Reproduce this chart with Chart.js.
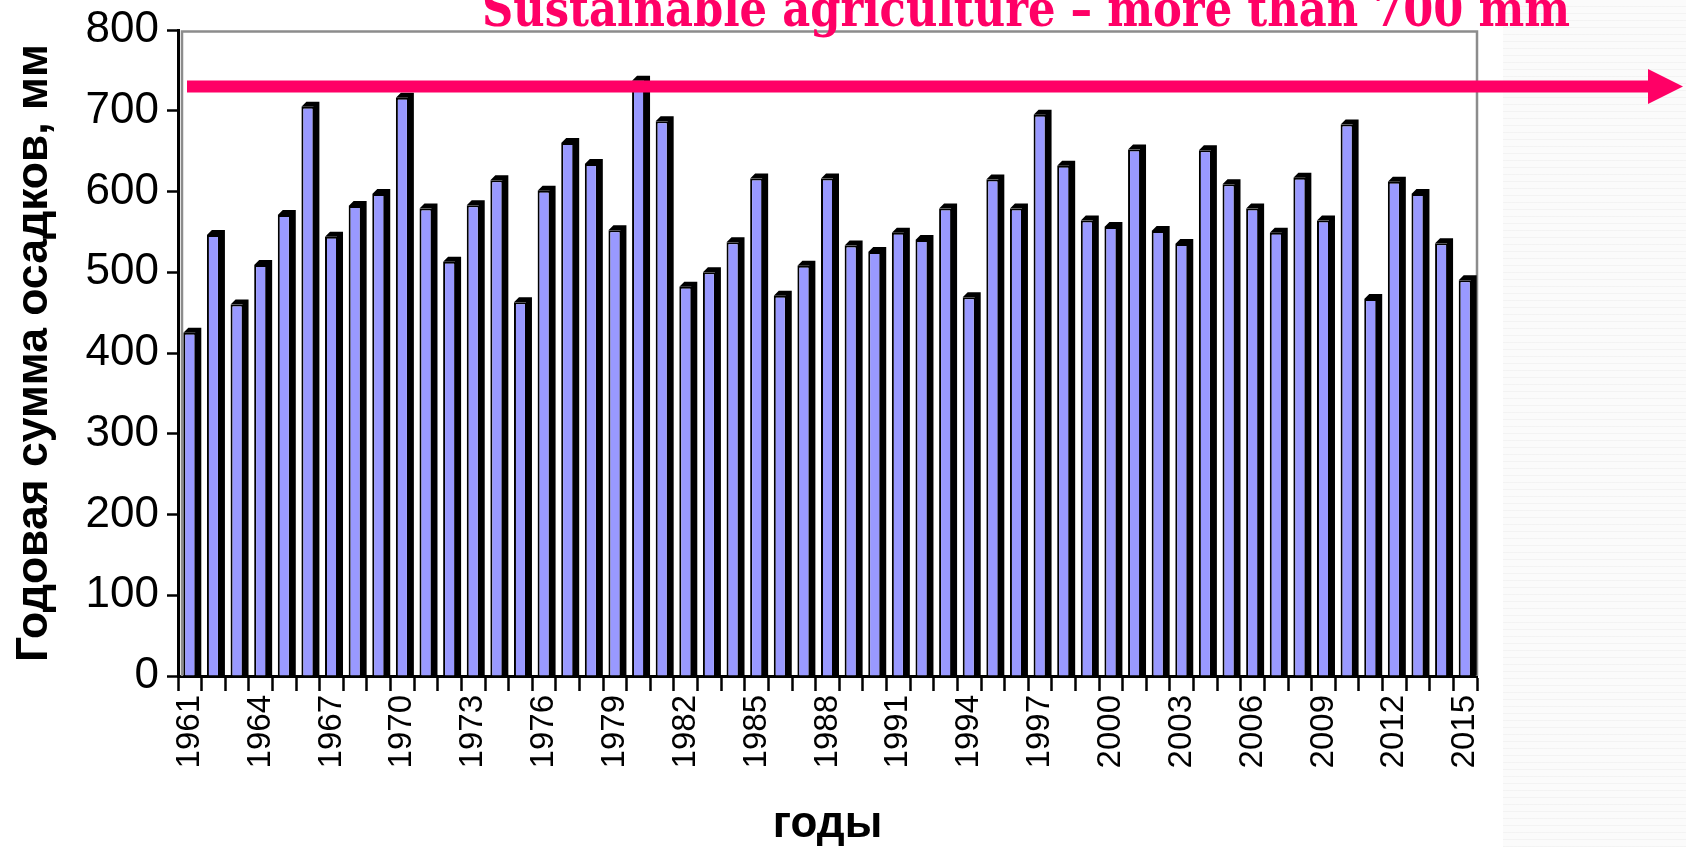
<!DOCTYPE html>
<html>
<head>
<meta charset="utf-8">
<script src="https://cdn.jsdelivr.net/npm/chart.js@4.4.1/dist/chart.umd.min.js"></script>
<style>
html,body{margin:0;padding:0;background:#fff;}
#wrap{position:relative;width:1686px;height:847px;overflow:hidden;background:#fff;}
#tex{position:absolute;left:1503px;top:0;width:183px;height:847px;background-color:#fbfbfb;
  background-image:repeating-linear-gradient(0deg, rgba(0,0,0,0.03) 0 1px, transparent 1px 7px);}
canvas{position:absolute;left:0;top:0;}
</style>
</head>
<body>
<div id="wrap"><div id="tex"></div><canvas id="c" width="1686" height="847"></canvas></div>
<script>
// ---- data ----
const years = ['1961','1962','1963','1964','1965','1966','1967','1968','1969','1970',
  '1971','1972','1973','1974','1975','1976','1977','1978','1979','1980',
  '1981','1982','1983','1984','1985','1986','1987','1988','1989','1990',
  '1991','1992','1993','1994','1995','1996','1997','1998','1999','2000',
  '2001','2002','2003','2004','2005','2006','2007','2008','2009','2010',
  '2011','2012','2013','2014','2015'];
const precipitation = [425,546,460,509,571,705,544,582,597,716,
  579,513,583,614,463,601,660,634,552,737,
  687,482,500,537,616,471,508,616,533,525,
  549,540,579,469,615,579,695,632,564,556,
  652,551,535,651,609,579,549,617,564,683,
  467,612,597,536,490];
const labeledYears = ['1961','1964','1967','1970','1973','1976','1979','1982','1985','1988',
  '1991','1994','1997','2000','2003','2006','2009','2012','2015'];
const yTickValues = [0,100,200,300,400,500,600,700,800];
const thresholdValue = 730;
const titleText = 'Sustainable agriculture \u2013 more than 700 mm';
const yTitleText = 'Годовая сумма осадков, мм';
const xTitleText = 'годы';

const SANS = '"Liberation Sans", Arial, sans-serif';
const PINK = '#FF0066';

const depth3d = {
  id: 'depth3d',
  afterDatasetsDraw(chart) {
    const ctx = chart.ctx;
    const meta = chart.getDatasetMeta(0);
    const d = 5;
    ctx.save();
    ctx.fillStyle = '#000';
    meta.data.forEach(b => {
      const p = b.getProps(['x','y','base','width'], true);
      const xL = p.x - p.width/2, xR = p.x + p.width/2;
      ctx.beginPath();
      ctx.moveTo(xL, p.y);
      ctx.lineTo(xL + d, p.y - d);
      ctx.lineTo(xR + d, p.y - d);
      ctx.lineTo(xR + d, p.base);
      ctx.lineTo(xR - 1, p.base);
      ctx.lineTo(xR - 1, p.y);
      ctx.closePath();
      ctx.fill();
    });
    ctx.restore();
  }
};

const frame = {
  id: 'frame',
  beforeDatasetsDraw(chart) {
    const {ctx, chartArea: a} = chart;
    ctx.save();
    ctx.strokeStyle = '#8c8c8c';
    ctx.lineWidth = 2.5;
    ctx.beginPath();
    ctx.moveTo(a.left + 4, a.bottom);
    ctx.lineTo(a.left + 4, a.top + 1.5);
    ctx.lineTo(a.right, a.top + 1.5);
    ctx.lineTo(a.right, a.bottom);
    ctx.stroke();
    ctx.restore();
  }
};

const overlay = {
  id: 'overlay',
  afterDraw(chart) {
    const {ctx, chartArea: a} = chart;
    const y = chart.scales.y.getPixelForValue(thresholdValue);
    ctx.save();
    // arrow
    const xStart = a.left + 9, xHead = chart.width - 38, xTip = chart.width - 3;
    ctx.strokeStyle = PINK;
    ctx.fillStyle = PINK;
    ctx.lineWidth = 12;
    ctx.beginPath();
    ctx.moveTo(xStart, y);
    ctx.lineTo(xHead + 2, y);
    ctx.stroke();
    ctx.beginPath();
    ctx.moveTo(xHead, y - 17.5);
    ctx.lineTo(xTip, y);
    ctx.lineTo(xHead, y + 17.5);
    ctx.closePath();
    ctx.fill();
    // title: serif bold, fitted to the reference width
    ctx.font = 'bold 50px "DejaVu Serif", serif';
    const w = ctx.measureText(titleText).width;
    const sx = 1088 / w;
    ctx.textAlign = 'left';
    ctx.textBaseline = 'alphabetic';
    ctx.translate(482, 26);
    ctx.scale(sx, 1);
    ctx.fillText(titleText, 0, 0);
    ctx.restore();
  }
};

new Chart(document.getElementById('c').getContext('2d'), {
  type: 'bar',
  data: {
    labels: years,
    datasets: [{
      data: precipitation,
      backgroundColor: '#9999FF',
      borderColor: '#000',
      borderWidth: 2,
      borderSkipped: 'start',
      categoryPercentage: 1.0,
      barPercentage: 0.55
    }]
  },
  options: {
    responsive: false,
    animation: false,
    devicePixelRatio: 1,
    layout: { padding: { top: 29, right: 209, bottom: 0, left: 0 } },
    plugins: { legend: { display: false }, tooltip: { enabled: false }, title: { display: false } },
    scales: {
      x: {
        grid: { display: true, drawOnChartArea: false, drawTicks: true, tickLength: 15, tickWidth: 2.5, tickColor: '#000', offset: true },
        border: { display: true, color: '#000', width: 3 },
        ticks: {
          autoSkip: false, minRotation: 90, maxRotation: 90, padding: 4, color: '#000',
          font: { family: SANS, size: 33, lineHeight: 1 },
          callback: (v, i) => labeledYears.includes(years[i]) ? years[i] : ''
        },
        title: { display: true, text: xTitleText, color: '#000', font: { family: SANS, size: 44, weight: 'bold', lineHeight: 1 }, padding: { top: 0, bottom: 0 } },
        afterFit: s => { s.height = 171; }
      },
      y: {
        min: 0, max: 800,
        afterBuildTicks: s => { s.ticks = yTickValues.map(v => ({ value: v })); },
        grid: { display: true, drawOnChartArea: false, drawTicks: true, tickLength: 11, tickWidth: 2.5, tickColor: '#000' },
        border: { display: true, color: '#000', width: 3 },
        ticks: { padding: 8, color: '#000', font: { family: SANS, size: 44, lineHeight: 1 } },
        title: { display: true, text: yTitleText, color: '#000', font: { family: SANS, size: 44.5, weight: 'bold', lineHeight: 1 }, padding: { top: 12, bottom: 0 } },
        afterFit: s => { s.width = 178; }
      }
    }
  },
  plugins: [frame, depth3d, overlay]
});
</script>
</body>
</html>
